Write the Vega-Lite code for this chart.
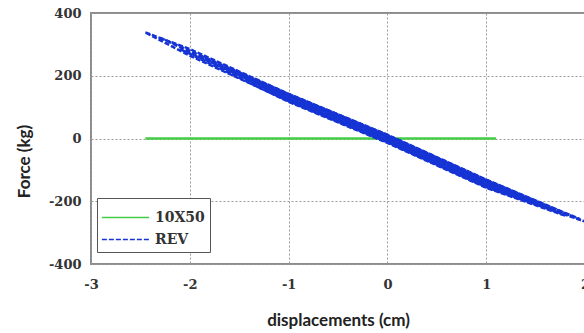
{
  "$schema": "https://vega.github.io/schema/vega-lite/v6.json",
  "width": 494,
  "height": 251,
  "autosize": "none",
  "padding": {"left": 91, "top": 13, "right": 0, "bottom": 69},
  "background": "white",
  "config": {"view": {"stroke": "#8c8c8c", "strokeWidth": 2}},
  "data": {"values": [
    {"series": "10X50", "loop": "g", "ord": 1, "x": -2.45, "y": 0},
    {"series": "10X50", "loop": "g", "ord": 2, "x": 1.1, "y": 0},

    {"series": "REV", "loop": "L1", "ord": 1, "x": -2.45, "y": 338},
    {"series": "REV", "loop": "L1", "ord": 2, "x": -2, "y": 285},
    {"series": "REV", "loop": "L1", "ord": 3, "x": -1, "y": 142},
    {"series": "REV", "loop": "L1", "ord": 4, "x": 0, "y": 12},
    {"series": "REV", "loop": "L1", "ord": 5, "x": 1, "y": -131},
    {"series": "REV", "loop": "L1", "ord": 6, "x": 2, "y": -265},
    {"series": "REV", "loop": "L1", "ord": 7, "x": 1, "y": -155},
    {"series": "REV", "loop": "L1", "ord": 8, "x": 0, "y": -12},
    {"series": "REV", "loop": "L1", "ord": 9, "x": -1, "y": 119},
    {"series": "REV", "loop": "L1", "ord": 10, "x": -2, "y": 264},
    {"series": "REV", "loop": "L1", "ord": 11, "x": -2.45, "y": 338},

    {"series": "REV", "loop": "L2", "ord": 1, "x": -2.3, "y": 321},
    {"series": "REV", "loop": "L2", "ord": 2, "x": -1, "y": 142},
    {"series": "REV", "loop": "L2", "ord": 3, "x": 0, "y": 11},
    {"series": "REV", "loop": "L2", "ord": 4, "x": 1, "y": -132},
    {"series": "REV", "loop": "L2", "ord": 5, "x": 1.95, "y": -257},
    {"series": "REV", "loop": "L2", "ord": 6, "x": 1, "y": -146},
    {"series": "REV", "loop": "L2", "ord": 7, "x": 0, "y": -3},
    {"series": "REV", "loop": "L2", "ord": 8, "x": -1, "y": 128},
    {"series": "REV", "loop": "L2", "ord": 9, "x": -2.3, "y": 321},

    {"series": "REV", "loop": "L3", "ord": 1, "x": -2.1, "y": 285},
    {"series": "REV", "loop": "L3", "ord": 2, "x": -1, "y": 137},
    {"series": "REV", "loop": "L3", "ord": 3, "x": 0, "y": 6},
    {"series": "REV", "loop": "L3", "ord": 4, "x": 1, "y": -137},
    {"series": "REV", "loop": "L3", "ord": 5, "x": 1.8, "y": -246},
    {"series": "REV", "loop": "L3", "ord": 6, "x": 1, "y": -157},
    {"series": "REV", "loop": "L3", "ord": 7, "x": 0, "y": -14},
    {"series": "REV", "loop": "L3", "ord": 8, "x": -1, "y": 117},
    {"series": "REV", "loop": "L3", "ord": 9, "x": -2.1, "y": 285},

    {"series": "REV", "loop": "L4", "ord": 1, "x": -1.9, "y": 263},
    {"series": "REV", "loop": "L4", "ord": 2, "x": -1, "y": 139},
    {"series": "REV", "loop": "L4", "ord": 3, "x": 0, "y": 8},
    {"series": "REV", "loop": "L4", "ord": 4, "x": 1, "y": -135},
    {"series": "REV", "loop": "L4", "ord": 5, "x": 1.7, "y": -228},
    {"series": "REV", "loop": "L4", "ord": 6, "x": 1, "y": -147},
    {"series": "REV", "loop": "L4", "ord": 7, "x": 0, "y": -4},
    {"series": "REV", "loop": "L4", "ord": 8, "x": -1, "y": 127},
    {"series": "REV", "loop": "L4", "ord": 9, "x": -1.9, "y": 263},

    {"series": "REV", "loop": "L5", "ord": 1, "x": -1.75, "y": 236},
    {"series": "REV", "loop": "L5", "ord": 2, "x": -1, "y": 136},
    {"series": "REV", "loop": "L5", "ord": 3, "x": 0, "y": 5},
    {"series": "REV", "loop": "L5", "ord": 4, "x": 1, "y": -138},
    {"series": "REV", "loop": "L5", "ord": 5, "x": 1.55, "y": -214},
    {"series": "REV", "loop": "L5", "ord": 6, "x": 1, "y": -154},
    {"series": "REV", "loop": "L5", "ord": 7, "x": 0, "y": -11},
    {"series": "REV", "loop": "L5", "ord": 8, "x": -1, "y": 120},
    {"series": "REV", "loop": "L5", "ord": 9, "x": -1.75, "y": 236},

    {"series": "REV", "loop": "L6", "ord": 1, "x": -1.6, "y": 222},
    {"series": "REV", "loop": "L6", "ord": 2, "x": -1, "y": 141},
    {"series": "REV", "loop": "L6", "ord": 3, "x": 0, "y": 10},
    {"series": "REV", "loop": "L6", "ord": 4, "x": 1, "y": -133},
    {"series": "REV", "loop": "L6", "ord": 5, "x": 1.45, "y": -194},
    {"series": "REV", "loop": "L6", "ord": 6, "x": 1, "y": -143},
    {"series": "REV", "loop": "L6", "ord": 7, "x": 0, "y": 0},
    {"series": "REV", "loop": "L6", "ord": 8, "x": -1, "y": 131},
    {"series": "REV", "loop": "L6", "ord": 9, "x": -1.6, "y": 222},

    {"series": "REV", "loop": "L7", "ord": 1, "x": -1.45, "y": 194},
    {"series": "REV", "loop": "L7", "ord": 2, "x": -1, "y": 136},
    {"series": "REV", "loop": "L7", "ord": 3, "x": 0, "y": 5},
    {"series": "REV", "loop": "L7", "ord": 4, "x": 1, "y": -138},
    {"series": "REV", "loop": "L7", "ord": 5, "x": 1.35, "y": -188},
    {"series": "REV", "loop": "L7", "ord": 6, "x": 1, "y": -152},
    {"series": "REV", "loop": "L7", "ord": 7, "x": 0, "y": -9},
    {"series": "REV", "loop": "L7", "ord": 8, "x": -1, "y": 122},
    {"series": "REV", "loop": "L7", "ord": 9, "x": -1.45, "y": 194},

    {"series": "REV", "loop": "L8", "ord": 1, "x": -1.3, "y": 175},
    {"series": "REV", "loop": "L8", "ord": 2, "x": -1, "y": 136},
    {"series": "REV", "loop": "L8", "ord": 3, "x": 0, "y": 5},
    {"series": "REV", "loop": "L8", "ord": 4, "x": 1, "y": -138},
    {"series": "REV", "loop": "L8", "ord": 5, "x": 1.2, "y": -167},
    {"series": "REV", "loop": "L8", "ord": 6, "x": 1, "y": -146},
    {"series": "REV", "loop": "L8", "ord": 7, "x": 0, "y": -3},
    {"series": "REV", "loop": "L8", "ord": 8, "x": -1, "y": 128},
    {"series": "REV", "loop": "L8", "ord": 9, "x": -1.3, "y": 175}
  ]},
  "mark": {"type": "line", "strokeWidth": 2.5, "clip": true},
  "encoding": {
    "x": {
      "field": "x", "type": "quantitative",
      "scale": {"domain": [-3, 2], "nice": false, "zero": false},
      "axis": {
        "values": [-3, -2, -1, 0, 1, 2],
        "labelExpr": "replace(datum.label, '−', '-')",
        "grid": true, "gridDash": [2, 2], "gridColor": "#9a9a9a", "gridWidth": 1,
        "domain": false, "ticks": false, "labelFlush": false,
        "labelFont": "DejaVu Serif", "labelFontWeight": "bold", "labelFontSize": 13, "labelColor": "#333",
        "labelPadding": 14,
        "title": "displacements (cm)", "titleFont": "Lato", "titleFontSize": 17, "titleFontWeight": "bold",
        "titleColor": "#222", "titleY": 56, "titleBaseline": "middle"
      }
    },
    "y": {
      "field": "y", "type": "quantitative",
      "scale": {"domain": [-400, 400], "nice": false},
      "axis": {
        "values": [-400, -200, 0, 200, 400],
        "labelExpr": "replace(datum.label, '−', '-')",
        "grid": true, "gridDash": [2, 2], "gridColor": "#9a9a9a", "gridWidth": 1,
        "domain": false, "ticks": false, "labelFlush": false,
        "labelFont": "DejaVu Serif", "labelFontWeight": "bold", "labelFontSize": 13, "labelColor": "#333",
        "labelPadding": 10,
        "title": "Force (kg)", "titleFont": "Lato", "titleFontSize": 17, "titleFontWeight": "bold",
        "titleColor": "#222", "titleX": -67, "titleY": 148, "titleBaseline": "middle", "titleAlign": "center", "titleAngle": -90
      }
    },
    "color": {
      "field": "series", "type": "nominal",
      "scale": {"domain": ["10X50", "REV"], "range": ["#44cc44", "#1634d4"]},
      "legend": {
        "orient": "none", "legendX": 6, "legendY": 185, "title": null,
        "strokeColor": "#555", "fillColor": "white", "padding": 5,
        "symbolType": "M-1.75,0H1.75", "symbolSize": 729, "symbolStrokeWidth": 1.5,
        "symbolOffset": 9, "labelOffset": 15, "rowPadding": 0,
        "labelFont": "DejaVu Serif", "labelFontSize": 14, "labelFontWeight": "bold", "labelColor": "#333"
      }
    },
    "strokeDash": {
      "field": "series", "type": "nominal",
      "scale": {"domain": ["10X50", "REV"], "range": [[1, 0], [5, 2]]}
    },
    "detail": {"field": "loop"},
    "order": {"field": "ord", "type": "quantitative"}
  }
}
